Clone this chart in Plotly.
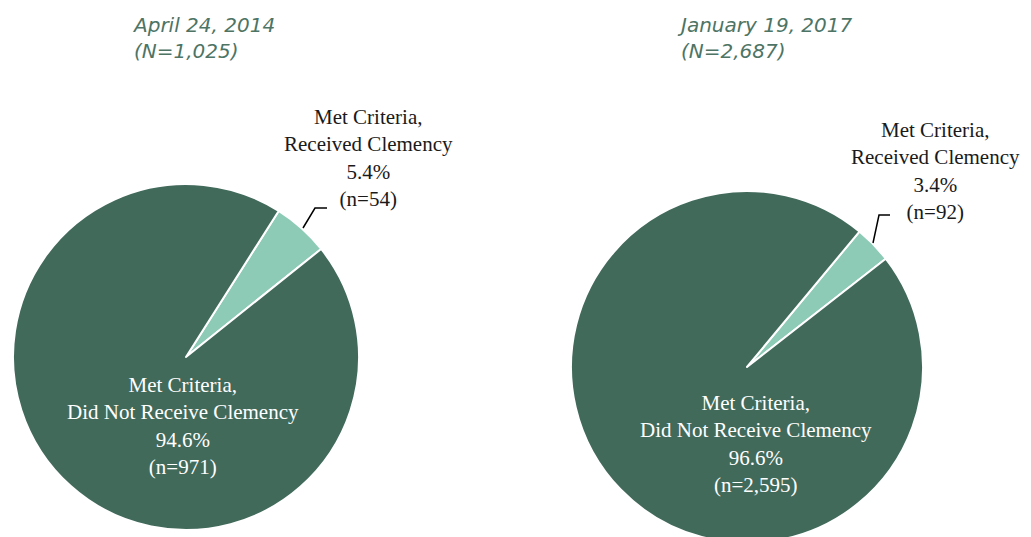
import plotly.graph_objects as go

W, H = 1031, 537
OFF = 8  # default page body margin of the html wrapper

categories = ["Met Criteria, Received Clemency", "Met Criteria, Did Not Receive Clemency"]
pct_2014 = [5.4, 94.6]
n_2014 = [54, 971]
pct_2017 = [3.4, 96.6]
n_2017 = [92, 2595]
titles = ["April 24, 2014<br>(N=1,025)", "January 19, 2017<br>(N=2,687)"]

DARK = "#416a5b"
LIGHT = "#8ecbb6"
TITLE_C = "#4d7464"
SERIF = "Liberation Serif"


def px_x(v):
    return (v - OFF) / W


def px_y(v):
    return 1 - (v - OFF) / H


fig = go.Figure()

# pie domains (window pixel boxes converted to paper fractions)
domains = [
    dict(x=[px_x(13), px_x(359)], y=[px_y(530), px_y(184)]),
    dict(x=[px_x(571), px_x(923)], y=[px_y(543), px_y(191)]),
]
rotations = [32.4, 39.7]
series = [(n_2014, pct_2014), (n_2017, pct_2017)]

for i, (ns, pcts) in enumerate(series):
    fig.add_trace(go.Pie(
        labels=categories,
        values=ns,
        sort=False,
        direction="clockwise",
        rotation=rotations[i],
        marker=dict(colors=[LIGHT, DARK], line=dict(color="white", width=2)),
        textinfo="none",
        hoverinfo="label+percent",
        showlegend=False,
        domain=domains[i],
    ))


def fmt_n(v):
    return f"{v:,}"


out_pos = [(368, 158), (935, 171)]
in_pos = [(183, 426), (756, 444)]
for i, (ns, pcts) in enumerate(series):
    fig.add_annotation(
        x=px_x(out_pos[i][0]), y=px_y(out_pos[i][1]), xref="paper", yref="paper",
        text=f"Met Criteria,<br>Received Clemency<br>{pcts[0]}%<br>(n={fmt_n(ns[0])})",
        showarrow=False, font=dict(family=SERIF, size=21, color="#1a1a1a"),
        align="center", xanchor="center", yanchor="middle",
    )
    fig.add_annotation(
        x=px_x(in_pos[i][0]), y=px_y(in_pos[i][1]), xref="paper", yref="paper",
        text=f"Met Criteria,<br>Did Not Receive Clemency<br>{pcts[1]}%<br>(n={fmt_n(ns[1])})",
        showarrow=False, font=dict(family=SERIF, size=21, color="white"),
        align="center", xanchor="center", yanchor="middle",
    )

title_pos = [(130, 38), (675, 38)]
for i, t in enumerate(titles):
    fig.add_annotation(
        x=px_x(title_pos[i][0]), y=px_y(title_pos[i][1]), xref="paper", yref="paper",
        text=f"<i>{t}</i>", showarrow=False,
        font=dict(family="DejaVu Sans", size=20, color=TITLE_C),
        align="left", xanchor="left", yanchor="middle",
    )

leaders = [
    [(303, 228), (315, 208), (327, 208)],
    [(873, 243), (879, 215), (890, 215)],
]
for pts in leaders:
    path = "M " + " L ".join(f"{px_x(x)},{px_y(y)}" for x, y in pts)
    fig.add_shape(type="path", path=path, xref="paper", yref="paper",
                  line=dict(color="black", width=1.5))

fig.update_layout(
    width=W, height=H,
    margin=dict(l=0, r=0, t=0, b=0),
    paper_bgcolor="white", plot_bgcolor="white",
)

fig.write_html("out.html")
